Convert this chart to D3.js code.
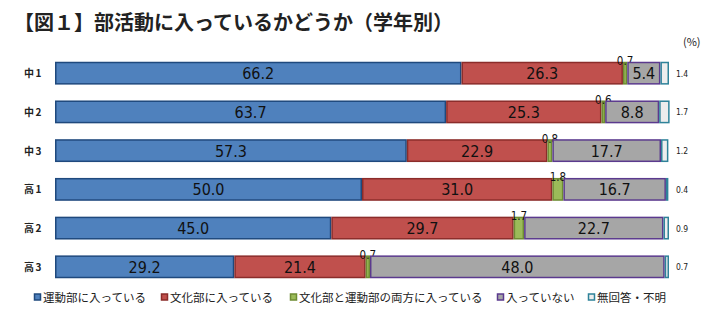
<!DOCTYPE html>
<html><head><meta charset="utf-8">
<script src="https://cdn.jsdelivr.net/npm/d3@7"></script>
<style>body{margin:0;background:#fff}svg{display:block}text{font-family:"Noto Sans CJK JP","Noto Sans",sans-serif}</style>
</head><body><svg id="c" width="708" height="328"></svg>
<script>
const categories = ["中1","中2","中3","高1","高2","高3"];
const seriesNames = ["運動部に入っている","文化部に入っている","文化部と運動部の両方に入っている","入っていない","無回答・不明"];
const sports   = [66.2, 63.7, 57.3, 50.0, 45.0, 29.2];
const culture  = [26.3, 25.3, 22.9, 31.0, 29.7, 21.4];
const both     = [0.7, 0.6, 0.8, 1.8, 1.7, 0.7];
const none     = [5.4, 8.8, 17.7, 16.7, 22.7, 48.0];
const noAnswer = [1.4, 1.7, 1.2, 0.4, 0.9, 0.7];
const series = [sports, culture, both, none, noAnswer];
const fills   = ["#4F81BD","#C0504D","#9BBB59","#A6A6A6","#EDEDED"];
const strokes = ["#1F497D","#8B2C2A","#6E8C33","#5B3A8E","#2E8299"];

const svg = d3.select("#c");
const x = d3.scaleLinear().domain([0,100]).range([55,669]);
const y = d3.scaleBand().domain(categories).range([54,286]).paddingInner(0.41).paddingOuter(0.2);
const numFont = "'DejaVu Sans Condensed','DejaVu Sans',sans-serif";

svg.append("text").attr("x",14).attr("y",30).attr("font-size",20).attr("font-weight","bold").attr("fill","#222")
  .text("【図１】部活動に入っているかどうか（学年別）");
svg.append("text").attr("x",683).attr("y",46).attr("font-size",11).attr("fill","#222").text("(%)");

categories.forEach((c,i)=>{
  let cum=0;
  series.forEach((s,k)=>{
    const v=s[i];
    const x0=x(cum), x1=x(cum+v);
    svg.append("rect").attr("x",x0+0.75).attr("y",y(c)+0.75).attr("width",Math.max(0,x1-x0-1.5)).attr("height",y.bandwidth()-1.5)
      .attr("fill",fills[k]).attr("stroke",strokes[k]).attr("stroke-width",1.5);
    const cx=(x0+x1)/2, cy=y(c)+y.bandwidth()/2;
    if(k===0||k===1||k===3){
      svg.append("text").attr("x",cx).attr("y",cy+6).attr("text-anchor","middle").attr("font-size",16).attr("fill","#111")
        .style("font-family",numFont).text(v.toFixed(1));
    } else if(k===2){
      svg.append("text").attr("x",cx).attr("y",y(c)+3.5).attr("text-anchor","middle").attr("font-size",11.5).attr("fill","#111")
        .style("font-family",numFont).text(v.toFixed(1));
    } else {
      svg.append("text").attr("x",676).attr("y",cy+3.5).attr("font-size",8.5).attr("fill","#222")
        .style("font-family",numFont).text(v.toFixed(1));
    }
    cum+=v;
  });
  svg.append("text").attr("x",24).attr("y",y(c)+y.bandwidth()/2+4).attr("font-size",10).attr("font-weight","bold")
    .attr("letter-spacing",1.5).attr("fill","#222").text(c);
});

const legX=[34,161,290,497,588];
seriesNames.forEach((n,k)=>{
  svg.append("rect").attr("x",legX[k]+0.5).attr("y",294).attr("width",6).attr("height",6)
    .attr("fill",fills[k]).attr("stroke",strokes[k]).attr("stroke-width",1.5);
  svg.append("text").attr("x",legX[k]+9).attr("y",301.5).attr("font-size",11.5).attr("fill","#222").text(n);
});
</script></body></html>
